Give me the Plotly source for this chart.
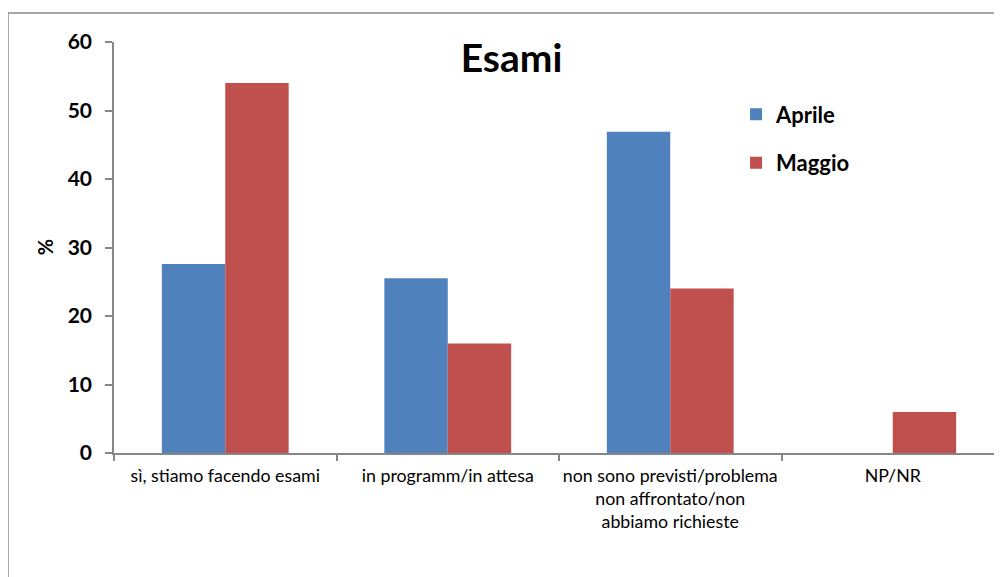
import plotly.graph_objects as go

categories = ["sì, stiamo facendo esami", "in programm/in attesa",
              "non sono previsti/problema<br>non affrontato/non<br>abbiamo richieste", "NP/NR"]
aprile = [27.6, 25.5, 46.9, 0]
maggio = [54.0, 16.0, 24.0, 6.0]
y_ticks = [0, 10, 20, 30, 40, 50, 60]

FONT = "Lato"
AXIS = "#868686"

fig = go.Figure()
fig.add_trace(go.Bar(name="Aprile", x=categories, y=aprile, marker_color="#4F81BD",
                     marker_line_width=0, legendgroup="a"))
fig.add_trace(go.Bar(name="Maggio", x=categories, y=maggio, marker_color="#C0504D",
                     marker_line_width=0, legendgroup="m"))

fig.update_layout(
    width=1002, height=577,
    margin=dict(l=106, r=8, t=34, b=132),
    paper_bgcolor="white", plot_bgcolor="white",
    barmode="group", bargap=0.43, bargroupgap=0,
    font=dict(family=FONT, color="black"),
    title=dict(text="Esami", x=0.5025, xanchor="center", y=0.912, yanchor="middle",
               font=dict(size=39, family=FONT, color="black", weight="bold")),
    legend=dict(x=0.7005, y=0.875, xanchor="left", yanchor="top",
                font=dict(size=22, family=FONT, color="black", weight="bold"),
                traceorder="grouped", tracegroupgap=17, itemwidth=30,
                bgcolor="rgba(0,0,0,0)"),
    showlegend=True,
)
fig.update_xaxes(
    range=[-0.5, 3.491], showline=True, linecolor=AXIS, linewidth=1.5,
    ticks="outside", tickson="boundaries", ticklen=6, tickcolor=AXIS, tickwidth=1.5,
    tickfont=dict(size=17.8, family=FONT, color="black"), showgrid=False, tickangle=0,
    ticklabelstandoff=6,
)
fig.update_yaxes(
    range=[0, 60], tickvals=y_ticks, showline=True, linecolor=AXIS, linewidth=1.5,
    ticks="outside", ticklen=7, tickcolor=AXIS, tickwidth=1.5,
    tickfont=dict(size=21, family=FONT, color="black", weight="bold"),
    showgrid=False, zeroline=False, ticklabelstandoff=9,
)
fig.add_annotation(text="%", xref="paper", yref="paper", x=-0.078, y=0.5,
                   xanchor="center", yanchor="middle", textangle=-90, showarrow=False,
                   font=dict(size=20, family=FONT, color="black", weight="bold"))
fig.add_shape(type="rect", xref="paper", yref="paper", x0=-0.1194, x1=1.05, y0=-0.4, y1=1.0706,
              line=dict(color="#898989", width=1.5), layer="below")

fig.write_html("out.html")
